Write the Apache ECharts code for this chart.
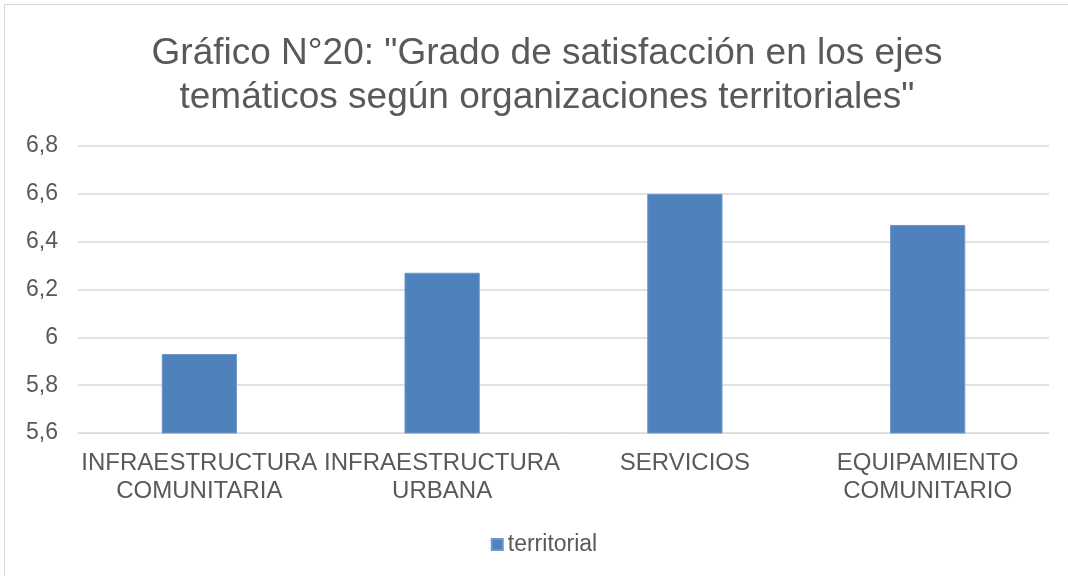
<!DOCTYPE html>
<html>
<head>
<meta charset="utf-8">
<script src="https://cdn.jsdelivr.net/npm/echarts@6/dist/echarts.min.js"></script>
<style>
  html, body { margin: 0; padding: 0; background: #fff; }
  #main { position: absolute; left: 4px; top: 4px; width: 1080px; height: 580px;
          border: 1px solid #d9d9d9; box-sizing: border-box; }
</style>
</head>
<body>
<div id="main"></div>
<script>
// datos del gráfico
var categorias = ['INFRAESTRUCTURA\nCOMUNITARIA', 'INFRAESTRUCTURA\nURBANA', 'SERVICIOS', 'EQUIPAMIENTO\nCOMUNITARIO'];
var territorial = [5.93, 6.27, 6.6, 6.47];
var serieNombre = 'territorial';
var titulo = 'Gráfico N°20: "Grado de satisfacción en los ejes\ntemáticos según organizaciones territoriales"';

var chart = echarts.init(document.getElementById('main'));
var fuente = '"Liberation Sans", Arial, sans-serif';

var option = {
  animation: false,
  textStyle: { fontFamily: fuente },
  title: {
    text: titulo,
    top: 22,
    left: 537,
    textAlign: 'center',
    textStyle: {
      color: '#595959',
      fontSize: 37,
      fontWeight: 'normal',
      fontFamily: fuente,
      lineHeight: 44
    }
  },
  legend: {
    bottom: 22,
    left: 'center',
    itemWidth: 11,
    itemHeight: 11,
    itemGap: 5,
    icon: 'rect',
    textStyle: { color: '#595959', fontSize: 23, fontFamily: fuente },
    data: [serieNombre]
  },
  grid: {
    left: 73,
    right: 34,
    top: 141,
    bottom: 150,
    containLabel: false
  },
  xAxis: {
    type: 'category',
    data: categorias,
    axisLine: { lineStyle: { color: '#d9d9d9', width: 1 } },
    axisTick: { show: false },
    axisLabel: {
      color: '#595959',
      fontSize: 24,
      lineHeight: 28,
      margin: 16,
      interval: 0,
      fontFamily: fuente
    }
  },
  yAxis: {
    type: 'value',
    min: 5.6,
    max: 6.8,
    interval: 0.2,
    axisLine: { show: false },
    axisTick: { show: false },
    splitLine: { lineStyle: { color: '#d9d9d9', width: 1.5 } },
    axisLabel: {
      color: '#595959',
      fontSize: 23,
      margin: 20,
      fontFamily: fuente,
      formatter: function (v) {
        return (Math.round(v * 10) / 10).toString().replace('.', ',');
      }
    }
  },
  series: [{
    name: serieNombre,
    type: 'bar',
    data: territorial,
    barWidth: '31%',
    itemStyle: { color: '#4f81bd', borderColor: '#6f97c9', borderWidth: 1 }
  }]
};
chart.setOption(option);
</script>
</body>
</html>
